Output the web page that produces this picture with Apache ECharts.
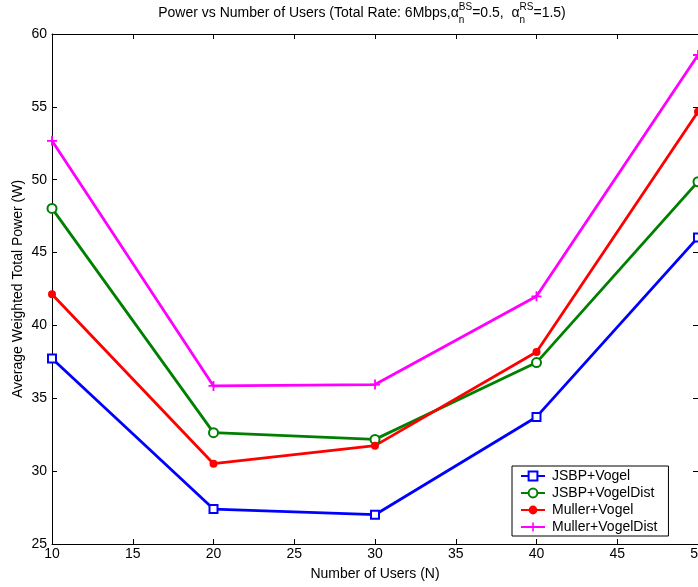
<!DOCTYPE html>
<html>
<head>
<meta charset="utf-8">
<script src="https://cdn.jsdelivr.net/npm/echarts@6/dist/echarts.min.js"></script>
<style>
  html, body { margin: 0; padding: 0; background: #fff; }
  #chart { width: 698px; height: 587px; }
</style>
</head>
<body>
<div id="chart"></div>
<script>
// Number of users on the x axis
const users = [10, 20, 30, 40, 50];
// Average weighted total power (W) per scheme
const jsbpVogel = [37.73, 27.40, 27.01, 33.72, 46.04];
const jsbpVogelDist = [48.03, 32.64, 32.18, 37.45, 49.86];
const mullerVogel = [42.14, 30.51, 31.75, 38.18, 54.66];
const mullerVogelDist = [52.67, 35.85, 35.94, 42.00, 58.56];
const seriesNames = ['JSBP+Vogel', 'JSBP+VogelDist', 'Muller+Vogel', 'Muller+VogelDist'];

const FONT = '"Liberation Sans", Arial, sans-serif';
const plusPath = 'path://M0,4.1H10V5.9H0Z M4.1,0H5.9V10H4.1Z';

function pairs(vals) { return users.map((u, i) => [u, vals[i]]); }

// Title with stacked sub/superscripts, laid out by measuring text widths
const ctx = document.createElement('canvas').getContext('2d');
function w(text, size) { ctx.font = size + 'px ' + FONT; return ctx.measureText(text).width; }
const mainSize = 14, smallSize = 10;
const parts = [
  { t: 'Power vs Number of Users (Total Rate: 6Mbps,\u03b1' },
  { sup: 'BS', sub: 'n' },
  { t: '=0.5,  \u03b1' },
  { sup: 'RS', sub: 'n' },
  { t: '=1.5)' }
];
let total = 0;
parts.forEach(p => {
  p.w = p.t !== undefined ? w(p.t, mainSize) : Math.max(w(p.sup, smallSize), w(p.sub, smallSize));
  total += p.w;
});
const titleCx = 362, titleY = 13;
let cx = titleCx - total / 2;
const titleEls = [];
parts.forEach(p => {
  if (p.t !== undefined) {
    titleEls.push({ type: 'text', x: cx, y: titleY, style: { text: p.t, font: mainSize + 'px ' + FONT, fill: '#000', textAlign: 'left', textVerticalAlign: 'middle' } });
  } else {
    titleEls.push({ type: 'text', x: cx, y: titleY - 6, style: { text: p.sup, font: smallSize + 'px ' + FONT, fill: '#000', textAlign: 'left', textVerticalAlign: 'middle' } });
    titleEls.push({ type: 'text', x: cx, y: titleY + 7, style: { text: p.sub, font: smallSize + 'px ' + FONT, fill: '#000', textAlign: 'left', textVerticalAlign: 'middle' } });
  }
  cx += p.w;
});

const axisText = { color: '#000', fontSize: 14, fontFamily: FONT };
const lineStyleAxis = { color: '#000', width: 1 };

const chart = echarts.init(document.getElementById('chart'), null, { renderer: 'canvas' });
chart.setOption({
  animation: false,
  backgroundColor: '#fff',
  graphic: titleEls,
  grid: { left: 52, right: 0, top: 34, bottom: 43, containLabel: false, outerBoundsMode: 'none' },
  xAxis: [
    {
      type: 'value', min: 10, max: 50, interval: 5,
      name: 'Number of Users (N)', nameLocation: 'middle', nameGap: 23, nameMoveOverlap: false,
      nameTextStyle: axisText,
      axisLine: { show: true, lineStyle: lineStyleAxis },
      axisTick: { show: true, inside: true, length: 5, lineStyle: lineStyleAxis },
      axisLabel: Object.assign({ margin: 3 }, axisText),
      splitLine: { show: false }
    },
    {
      type: 'value', min: 10, max: 50, interval: 5, position: 'top',
      axisLine: { show: true, onZero: false, lineStyle: lineStyleAxis },
      axisTick: { show: true, inside: true, length: 5, lineStyle: lineStyleAxis },
      axisLabel: { show: false },
      splitLine: { show: false }
    }
  ],
  yAxis: [
    {
      type: 'value', min: 25, max: 60, interval: 5,
      name: 'Average Weighted Total Power (W)', nameLocation: 'middle', nameGap: 27, nameMoveOverlap: false,
      nameTextStyle: axisText,
      axisLine: { show: true, lineStyle: lineStyleAxis },
      axisTick: { show: true, inside: true, length: 5, lineStyle: lineStyleAxis },
      axisLabel: Object.assign({ margin: 5 }, axisText),
      splitLine: { show: false }
    },
    {
      type: 'value', min: 25, max: 60, interval: 5, position: 'right',
      axisLine: { show: true, onZero: false, lineStyle: lineStyleAxis },
      axisTick: { show: true, inside: true, length: 5, lineStyle: lineStyleAxis },
      axisLabel: { show: false },
      splitLine: { show: false }
    }
  ],
  legend: {
    orient: 'vertical', left: 512, top: 466,
    padding: [3, 11, 2, 8], itemGap: 3, itemWidth: 24, itemHeight: 11,
    backgroundColor: '#fff', borderColor: '#000', borderWidth: 1,
    textStyle: { color: '#000', fontSize: 14, fontFamily: FONT, padding: [0, 0, 0, 2] },
    data: seriesNames
  },
  series: [
    {
      name: seriesNames[0], type: 'line', data: pairs(jsbpVogel), clip: false,
      symbol: 'rect', symbolSize: 8, color: '#0000ff',
      itemStyle: { color: '#fff', borderColor: '#0000ff', borderWidth: 2 },
      lineStyle: { width: 2.8, color: '#0000ff' }
    },
    {
      name: seriesNames[1], type: 'line', data: pairs(jsbpVogelDist), clip: false,
      symbol: 'circle', symbolSize: 9, color: '#008000',
      itemStyle: { color: '#fff', borderColor: '#008000', borderWidth: 2 },
      lineStyle: { width: 2.8, color: '#008000' }
    },
    {
      name: seriesNames[2], type: 'line', data: pairs(mullerVogel), clip: false,
      symbol: 'circle', symbolSize: 8, color: '#ff0000',
      itemStyle: { color: '#ff0000', borderWidth: 0 },
      lineStyle: { width: 2.8, color: '#ff0000' }
    },
    {
      name: seriesNames[3], type: 'line', data: pairs(mullerVogelDist), clip: false,
      symbol: plusPath, symbolSize: 10, color: '#ff00ff',
      itemStyle: { color: '#ff00ff', borderWidth: 0 },
      lineStyle: { width: 2.8, color: '#ff00ff' }
    }
  ]
});
</script>
</body>
</html>
